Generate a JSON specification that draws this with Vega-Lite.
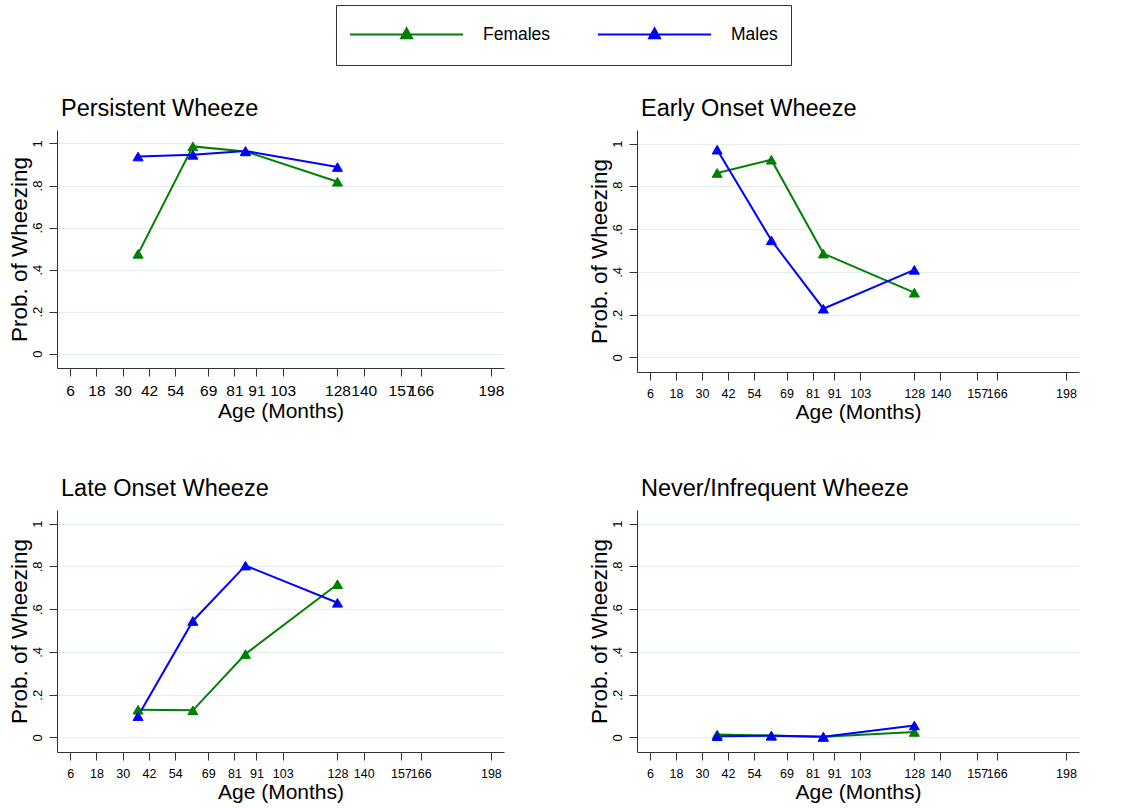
{
  "$schema": "https://vega.github.io/schema/vega-lite/v6.json",
  "padding": {"left": 7, "top": 4, "right": 5, "bottom": 5},
  "background": "white",
  "datasets": {
    "wheeze": [
      {"panel": "Persistent Wheeze", "sex": "Females", "age": 37, "prob": 0.475},
      {"panel": "Persistent Wheeze", "sex": "Females", "age": 62, "prob": 0.986},
      {"panel": "Persistent Wheeze", "sex": "Females", "age": 86, "prob": 0.962},
      {"panel": "Persistent Wheeze", "sex": "Females", "age": 128, "prob": 0.818},
      {"panel": "Persistent Wheeze", "sex": "Males", "age": 37, "prob": 0.938},
      {"panel": "Persistent Wheeze", "sex": "Males", "age": 62, "prob": 0.946},
      {"panel": "Persistent Wheeze", "sex": "Males", "age": 86, "prob": 0.964},
      {"panel": "Persistent Wheeze", "sex": "Males", "age": 128, "prob": 0.888},
      {"panel": "Early Onset Wheeze", "sex": "Females", "age": 37, "prob": 0.863},
      {"panel": "Early Onset Wheeze", "sex": "Females", "age": 62, "prob": 0.925},
      {"panel": "Early Onset Wheeze", "sex": "Females", "age": 86, "prob": 0.486},
      {"panel": "Early Onset Wheeze", "sex": "Females", "age": 128, "prob": 0.303},
      {"panel": "Early Onset Wheeze", "sex": "Males", "age": 37, "prob": 0.972},
      {"panel": "Early Onset Wheeze", "sex": "Males", "age": 62, "prob": 0.548},
      {"panel": "Early Onset Wheeze", "sex": "Males", "age": 86, "prob": 0.228},
      {"panel": "Early Onset Wheeze", "sex": "Males", "age": 128, "prob": 0.41},
      {"panel": "Late Onset Wheeze", "sex": "Females", "age": 37, "prob": 0.13},
      {"panel": "Late Onset Wheeze", "sex": "Females", "age": 62, "prob": 0.127},
      {"panel": "Late Onset Wheeze", "sex": "Females", "age": 86, "prob": 0.39},
      {"panel": "Late Onset Wheeze", "sex": "Females", "age": 128, "prob": 0.717},
      {"panel": "Late Onset Wheeze", "sex": "Males", "age": 37, "prob": 0.1},
      {"panel": "Late Onset Wheeze", "sex": "Males", "age": 62, "prob": 0.545},
      {"panel": "Late Onset Wheeze", "sex": "Males", "age": 86, "prob": 0.804},
      {"panel": "Late Onset Wheeze", "sex": "Males", "age": 128, "prob": 0.63},
      {"panel": "Never/Infrequent Wheeze", "sex": "Females", "age": 37, "prob": 0.014},
      {"panel": "Never/Infrequent Wheeze", "sex": "Females", "age": 62, "prob": 0.009},
      {"panel": "Never/Infrequent Wheeze", "sex": "Females", "age": 86, "prob": 0.003},
      {"panel": "Never/Infrequent Wheeze", "sex": "Females", "age": 128, "prob": 0.026},
      {"panel": "Never/Infrequent Wheeze", "sex": "Males", "age": 37, "prob": 0.006},
      {"panel": "Never/Infrequent Wheeze", "sex": "Males", "age": 62, "prob": 0.008},
      {"panel": "Never/Infrequent Wheeze", "sex": "Males", "age": 86, "prob": 0.003},
      {"panel": "Never/Infrequent Wheeze", "sex": "Males", "age": 128, "prob": 0.056}
    ]
  },
  "data": {"name": "wheeze"},
  "columns": 2,
  "spacing": {"row": 138, "column": 133},
  "bounds": "flush",
  "resolve": {"scale": {"x": "independent", "y": "independent"}},
  "concat": [
    {
      "title": {"text": "Persistent Wheeze"},
      "width": 447, "height": 238,
      "transform": [{"filter": "datum.panel === 'Persistent Wheeze'"}],
      "encoding": {
        "x": {"field": "age", "type": "quantitative", "scale": {"domain": [0, 204], "nice": false, "zero": false},
              "axis": {"values": [6, 18, 30, 42, 54, 69, 81, 91, 103, 128, 140, 157, 166, 198], "title": "Age (Months)", "labelFontSize": 15.5}},
        "y": {"field": "prob", "type": "quantitative", "scale": {"domain": [-0.068, 1.064], "nice": false, "zero": false},
              "axis": {"values": [0, 0.2, 0.4, 0.6, 0.8, 1], "title": "Prob. of Wheezing", "labelExpr": "datum.value == 0 ? '0' : datum.value == 1 ? '1' : replace(format(datum.value, '.1f'), '0.', '.')"}}
      },
      "layer": [
        {"mark": {"type": "line", "strokeWidth": 2},
         "encoding": {"stroke": {"field": "sex", "type": "nominal", "scale": {"domain": ["Females", "Males"], "range": ["#008000", "#0000ff"]},
           "legend": {"title": null, "orient": "none", "legendX": 279, "legendY": -125, "direction": "horizontal", "columns": 2, "symbolType": "M-1,0H6.3M2.3,0.24L2.65,-0.4L3,0.24ZM2.65,-0.87M2.65,0.87", "symbolSize": 961, "symbolStrokeWidth": 2, "labelFontSize": 17.5, "labelOffset": 101, "columnPadding": 43, "padding": 13, "strokeColor": "#333", "fillColor": "white", "labelColor": "black"}}}},
        {"mark": {"type": "point", "shape": "triangle-up", "filled": true, "size": 100, "strokeWidth": 1, "opacity": 1},
         "encoding": {
           "fill": {"field": "sex", "type": "nominal", "scale": {"domain": ["Females", "Males"], "range": ["#008000", "#0000ff"]},
             "legend": {"title": null, "orient": "none", "legendX": 279, "legendY": -125, "direction": "horizontal", "columns": 2, "symbolType": "M-1,0H6.3M2.3,0.24L2.65,-0.4L3,0.24ZM2.65,-0.87M2.65,0.87", "symbolSize": 961, "symbolStrokeWidth": 2, "labelFontSize": 17.5, "labelOffset": 101, "columnPadding": 43, "padding": 13, "strokeColor": "#333", "fillColor": "white", "labelColor": "black"}},
           "stroke": {"field": "sex", "type": "nominal", "scale": {"domain": ["Females", "Males"], "range": ["#008000", "#0000ff"]},
             "legend": {"title": null, "orient": "none", "legendX": 279, "legendY": -125, "direction": "horizontal", "columns": 2, "symbolType": "M-1,0H6.3M2.3,0.24L2.65,-0.4L3,0.24ZM2.65,-0.87M2.65,0.87", "symbolSize": 961, "symbolStrokeWidth": 2, "labelFontSize": 17.5, "labelOffset": 101, "columnPadding": 43, "padding": 13, "strokeColor": "#333", "fillColor": "white", "labelColor": "black"}}
         }}
      ]
    },
    {
      "title": {"text": "Early Onset Wheeze"},
      "width": 442, "height": 242,
      "transform": [{"filter": "datum.panel === 'Early Onset Wheeze'"}],
      "encoding": {
        "x": {"field": "age", "type": "quantitative", "scale": {"domain": [0, 204], "nice": false, "zero": false},
              "axis": {"values": [6, 18, 30, 42, 54, 69, 81, 91, 103, 128, 140, 157, 166, 198], "title": "Age (Months)"}},
        "y": {"field": "prob", "type": "quantitative", "scale": {"domain": [-0.068, 1.064], "nice": false, "zero": false},
              "axis": {"values": [0, 0.2, 0.4, 0.6, 0.8, 1], "title": "Prob. of Wheezing", "labelExpr": "datum.value == 0 ? '0' : datum.value == 1 ? '1' : replace(format(datum.value, '.1f'), '0.', '.')"}}
      },
      "layer": [
        {"mark": {"type": "line", "strokeWidth": 2},
         "encoding": {"stroke": {"field": "sex", "type": "nominal", "scale": {"domain": ["Females", "Males"], "range": ["#008000", "#0000ff"]}}}},
        {"mark": {"type": "point", "shape": "triangle-up", "filled": true, "size": 100, "strokeWidth": 1, "opacity": 1},
         "encoding": {
           "fill": {"field": "sex", "type": "nominal", "scale": {"domain": ["Females", "Males"], "range": ["#008000", "#0000ff"]}},
           "stroke": {"field": "sex", "type": "nominal", "scale": {"domain": ["Females", "Males"], "range": ["#008000", "#0000ff"]}}
         }}
      ]
    },
    {
      "title": {"text": "Late Onset Wheeze"},
      "width": 447, "height": 242,
      "transform": [{"filter": "datum.panel === 'Late Onset Wheeze'"}],
      "encoding": {
        "x": {"field": "age", "type": "quantitative", "scale": {"domain": [0, 204], "nice": false, "zero": false},
              "axis": {"values": [6, 18, 30, 42, 54, 69, 81, 91, 103, 128, 140, 157, 166, 198], "title": "Age (Months)"}},
        "y": {"field": "prob", "type": "quantitative", "scale": {"domain": [-0.068, 1.064], "nice": false, "zero": false},
              "axis": {"values": [0, 0.2, 0.4, 0.6, 0.8, 1], "title": "Prob. of Wheezing", "labelExpr": "datum.value == 0 ? '0' : datum.value == 1 ? '1' : replace(format(datum.value, '.1f'), '0.', '.')"}}
      },
      "layer": [
        {"mark": {"type": "line", "strokeWidth": 2},
         "encoding": {"stroke": {"field": "sex", "type": "nominal", "scale": {"domain": ["Females", "Males"], "range": ["#008000", "#0000ff"]}}}},
        {"mark": {"type": "point", "shape": "triangle-up", "filled": true, "size": 100, "strokeWidth": 1, "opacity": 1},
         "encoding": {
           "fill": {"field": "sex", "type": "nominal", "scale": {"domain": ["Females", "Males"], "range": ["#008000", "#0000ff"]}},
           "stroke": {"field": "sex", "type": "nominal", "scale": {"domain": ["Females", "Males"], "range": ["#008000", "#0000ff"]}}
         }}
      ]
    },
    {
      "title": {"text": "Never/Infrequent Wheeze"},
      "width": 442, "height": 242,
      "transform": [{"filter": "datum.panel === 'Never/Infrequent Wheeze'"}],
      "encoding": {
        "x": {"field": "age", "type": "quantitative", "scale": {"domain": [0, 204], "nice": false, "zero": false},
              "axis": {"values": [6, 18, 30, 42, 54, 69, 81, 91, 103, 128, 140, 157, 166, 198], "title": "Age (Months)"}},
        "y": {"field": "prob", "type": "quantitative", "scale": {"domain": [-0.068, 1.064], "nice": false, "zero": false},
              "axis": {"values": [0, 0.2, 0.4, 0.6, 0.8, 1], "title": "Prob. of Wheezing", "labelExpr": "datum.value == 0 ? '0' : datum.value == 1 ? '1' : replace(format(datum.value, '.1f'), '0.', '.')"}}
      },
      "layer": [
        {"mark": {"type": "line", "strokeWidth": 2},
         "encoding": {"stroke": {"field": "sex", "type": "nominal", "scale": {"domain": ["Females", "Males"], "range": ["#008000", "#0000ff"]}}}},
        {"mark": {"type": "point", "shape": "triangle-up", "filled": true, "size": 100, "strokeWidth": 1, "opacity": 1},
         "encoding": {
           "fill": {"field": "sex", "type": "nominal", "scale": {"domain": ["Females", "Males"], "range": ["#008000", "#0000ff"]}},
           "stroke": {"field": "sex", "type": "nominal", "scale": {"domain": ["Females", "Males"], "range": ["#008000", "#0000ff"]}}
         }}
      ]
    }
  ],
  "config": {
    "font": "Liberation Sans",
    "view": {"stroke": null},
    "axis": {"domainColor": "#333333", "tickColor": "#333333", "labelColor": "black", "titleColor": "black", "titleFontWeight": "normal", "titleFont": "Liberation Sans", "labelFont": "Liberation Sans", "tickSize": 8, "domainWidth": 1, "tickWidth": 1},
    "axisX": {"grid": false, "labelFontSize": 12.5, "labelPadding": 7, "titleFontSize": 21, "titlePadding": 2, "labelFlush": false, "labelOverlap": false, "labelBound": false},
    "axisY": {"grid": true, "gridColor": "#e3edf0", "gridWidth": 1, "labelFontSize": 13, "labelAngle": -90, "labelAlign": "center", "labelBaseline": "bottom", "labelPadding": 5, "titleFontSize": 22.5, "titlePadding": 0, "labelFlush": false, "labelOverlap": false},
    "title": {"fontSize": 23.5, "fontWeight": "normal", "anchor": "start", "frame": "group", "dx": 4, "offset": 10, "baseline": "alphabetic", "color": "black", "font": "Liberation Sans"}
  }
}
